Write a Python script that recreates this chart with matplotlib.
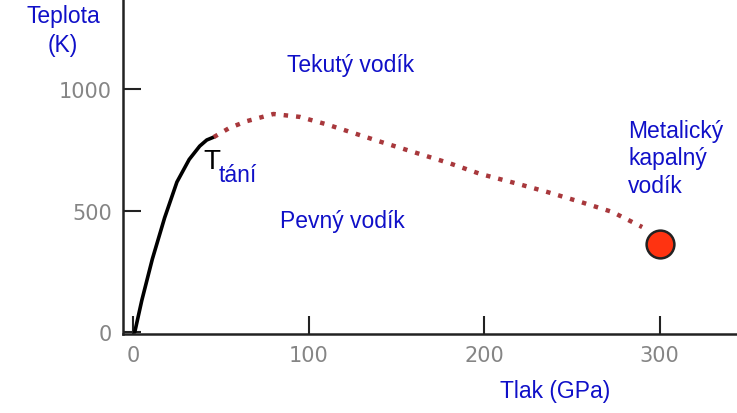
import matplotlib
matplotlib.use("Agg")
import matplotlib.pyplot as plt

# solid melting curve (GPa, K)
melt_p = [1, 5, 11, 18, 25, 32, 38, 42, 46]
melt_t = [0, 130, 300, 470, 617, 710, 765, 790, 802]

# dotted liquid boundary
liq_p = [46, 55, 65, 80, 95, 110, 122, 140, 160, 180, 198, 218, 236, 255, 273, 290]
liq_t = [802, 840, 868, 897, 885, 855, 827, 785, 740, 695, 650, 612, 576, 535, 494, 432]

metal_p = [300]
metal_t = [362]

x_ticks = [0, 100, 200, 300]
y_ticks = [0, 500, 1000]

blue = "#1010c8"
lab = dict(color=blue, fontsize=16.5, family="Liberation Sans")

fig = plt.figure(figsize=(7.37, 4.14), dpi=100)
ax = fig.add_axes([123 / 737, 79 / 414, 1 - 123 / 737, 1 - 79 / 414])

ax.plot(melt_p, melt_t, color="black", lw=2.6, solid_capstyle="round")
ax.plot(liq_p, liq_t, color="#a8383c", lw=3.2, linestyle=(0, (1.0, 1.8)))
ax.scatter(metal_p, metal_t, s=400, color="#ff3311", edgecolor="#222222",
           linewidth=1.8, zorder=5)

ax.set_xlim(-5.7, 344)
ax.set_ylim(-8, 1370)
ax.set_xticks(x_ticks)
ax.set_yticks(y_ticks)
ax.tick_params(direction="in", length=13, width=1.5, colors="#222222",
               labelcolor="#858585", labelsize=15)
ax.tick_params(axis="x", pad=8)
ax.tick_params(axis="y", pad=8)
ax.spines["top"].set_visible(False)
ax.spines["right"].set_visible(False)
for s in ["left", "bottom"]:
    ax.spines[s].set_linewidth(1.8)
    ax.spines[s].set_color("#222222")

ax.text(124, 1100, "Tekutý vodík", ha="center", va="center", **lab)
ax.text(119, 460, "Pevný vodík", ha="center", va="center", **lab)
ax.text(282, 718, "Metalický\nkapalný\nvodík", ha="left", va="center",
        linespacing=1.25, **lab)
ax.text(40, 705, "T", color="black", fontsize=20, family="Liberation Sans",
        ha="left", va="center")
ax.text(49, 650, "tání", ha="left", va="center", **lab)

fig.text(63 / 737, 1 - 31 / 414, "Teplota\n(K)", ha="center", va="center",
         linespacing=1.3, **lab)
fig.text(555 / 737, 1 - 392 / 414, "Tlak (GPa)", ha="center", va="center", **lab)

fig.savefig("out.png", dpi=100)
